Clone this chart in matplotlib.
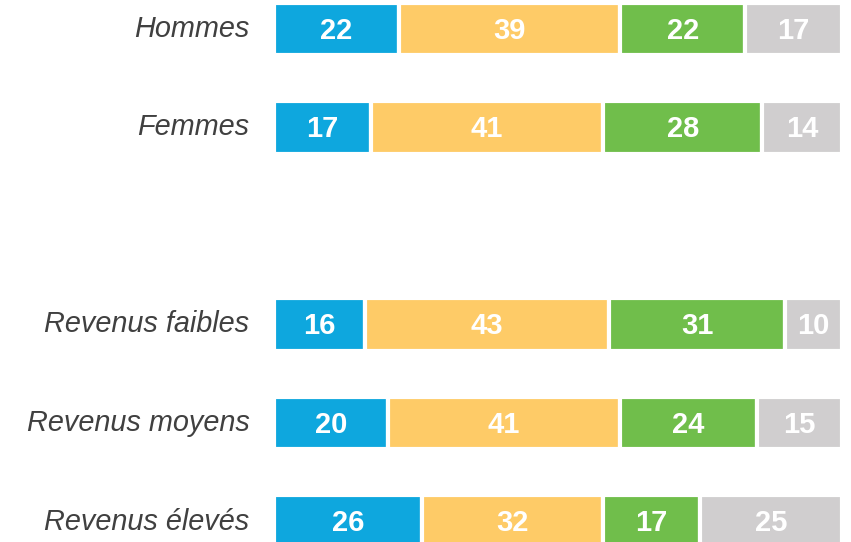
import numpy as np
import matplotlib.pyplot as plt

groupes = ["Hommes", "Femmes", "Revenus faibles", "Revenus moyens", "Revenus élevés"]
positions = [0, 1, 3, 4, 5]

bleu = [22, 17, 16, 20, 26]
jaune = [39, 41, 43, 41, 32]
vert = [22, 28, 31, 24, 17]
gris = [17, 14, 10, 15, 25]

couleurs = ["#0EA7DE", "#FECB67", "#70BE4B", "#D0CECF"]

plt.rcParams["font.family"] = ["Liberation Sans", "DejaVu Sans"]

fig = plt.figure(figsize=(8.51, 5.42), dpi=100)
ax = fig.add_axes([274 / 851, 0, 568 / 851, 1])

series = [bleu, jaune, vert, gris]
gauche = np.zeros(len(groupes))
for valeurs, couleur in zip(series, couleurs):
    valeurs = np.array(valeurs)
    ax.barh(positions, valeurs, left=gauche, height=0.53, color=couleur,
            edgecolor="white", linewidth=3)
    for y, g, v in zip(positions, gauche, valeurs):
        ax.text(g + v / 2, y + 0.02, str(v), ha="center", va="center",
                color="white", fontsize=21, fontweight="bold")
    gauche += valeurs

for y, nom in zip(positions, groupes):
    ax.text(-4.3, y, nom, ha="right", va="center", color="#404040",
            fontsize=20.8, style="italic")

ax.set_xlim(0, 100)
ax.set_ylim(5.208, -0.294)
ax.axis("off")

fig.savefig("out.png", dpi=100)
